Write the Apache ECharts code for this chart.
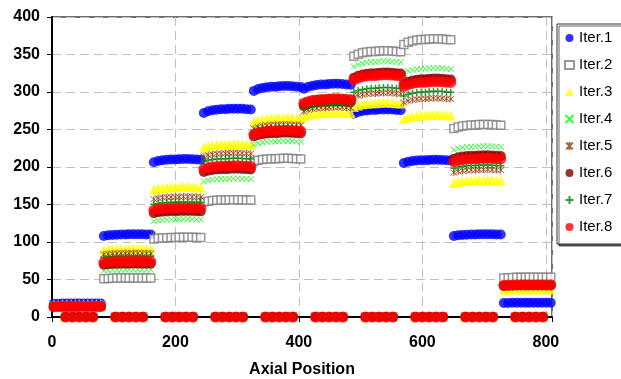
<!DOCTYPE html>
<html>
<head>
<meta charset="utf-8">
<script src="https://cdn.jsdelivr.net/npm/echarts@6/dist/echarts.min.js"></script>
<style>
  html, body { margin: 0; padding: 0; background: #fff; }
  #chart { width: 621px; height: 379px; }
</style>
</head>
<body>
<div id="chart"></div>
<script>
// axial segments (start of each node) and where the points sit inside a node
var segStarts = [0, 81, 162, 243, 324, 405, 486, 567, 648, 729];
var pointOffsets = [3, 10, 17, 24, 31, 38, 44, 51, 58, 65, 72, 79];
var profile = [0.982, 0.99, 0.995, 0.998, 1.0, 1.0, 1.002, 1.003, 1.003, 1.002, 1.0, 0.999];
var zeroOffsets = [22, 33, 44, 55, 66];

// node levels per iteration
var iter1 = [18, 110, 210, 277, 307, 310, 276, 209, 110, 19];
var iter2 = [15, 52, 106, 156, 211, 290, 354, 370, 256, 53];
var iter3 = [17, 91, 173, 230, 265, 272, 285, 269, 182, 37];
var iter4 = [14, 63, 130, 184, 234, 283, 340, 331, 227, 44];
var iter5 = [15, 85, 160, 218, 256, 279, 298, 291, 196, 43];
var iter6 = [14, 71, 141, 197, 245, 287, 325, 317, 215, 42];
var iter7 = [15, 81, 153, 211, 252, 283, 305, 300, 202, 43];
var iter8 = [14, 74, 145, 201, 248, 290, 322, 313, 211, 43];

var names = ['Iter.1', 'Iter.2', 'Iter.3', 'Iter.4', 'Iter.5', 'Iter.6', 'Iter.7', 'Iter.8'];
var levels = [iter1, iter2, iter3, iter4, iter5, iter6, iter7, iter8];

var X_PATH = 'path://M0,0L10,10M10,0L0,10';
var STAR_PATH = 'path://M0,0L10,10M10,0L0,10M5,-1L5,11';
var PLUS_PATH = 'path://M5,0L5,10M0,5L10,5';

var styles = [
    { symbol: 'circle', symbolSize: 10, itemStyle: { color: '#0000ff' } },
    { symbol: 'rect', symbolSize: 8, itemStyle: { color: '#ffffff', borderColor: '#808080', borderWidth: 1.5 } },
    { symbol: 'triangle', symbolSize: 10, itemStyle: { color: '#ffff00' } },
    { symbol: X_PATH, symbolSize: 6, itemStyle: { color: '#00ff00', borderColor: '#00ff00', borderWidth: 1 } },
    { symbol: STAR_PATH, symbolSize: 7, itemStyle: { color: '#993300', borderColor: '#993300', borderWidth: 1 } },
    { symbol: 'circle', symbolSize: 10, itemStyle: { color: '#800000' } },
    { symbol: PLUS_PATH, symbolSize: 7, itemStyle: { color: '#008000', borderColor: '#008000', borderWidth: 1.5 } },
    { symbol: 'circle', symbolSize: 11, itemStyle: { color: '#ff0000' } }
];

function buildData(lv) {
    var out = [];
    segStarts.forEach(function (s, k) {
        pointOffsets.forEach(function (o, i) {
            out.push([s + o, lv[k] * profile[i]]);
        });
    });
    segStarts.forEach(function (s) {
        zeroOffsets.forEach(function (o) {
            out.push([s + o, 0]);
        });
    });
    return out;
}

var series = names.map(function (n, i) {
    return {
        name: n,
        type: 'scatter',
        symbol: styles[i].symbol,
        symbolSize: styles[i].symbolSize,
        itemStyle: styles[i].itemStyle,
        data: buildData(levels[i]),
        emphasis: { disabled: true },
        z: 2 + i
    };
});

var chart = echarts.init(document.getElementById('chart'));
var options = {
    animation: false,
    grid: {
        left: 52, right: 69, top: 17, bottom: 62,
        outerBoundsMode: 'none',
        show: true, borderColor: '#404040', borderWidth: 1.5
    },
    legend: {
        orient: 'vertical',
        left: 557, top: 24,
        padding: [6, 14, 9, 7],
        itemWidth: 9, itemHeight: 8,
        itemGap: 11,
        backgroundColor: '#fff',
        borderColor: '#333', borderWidth: 1,
        shadowColor: 'rgba(0,0,0,0.6)', shadowOffsetX: 2, shadowOffsetY: 2,
        textStyle: { fontFamily: 'Liberation Sans', fontSize: 15, color: '#000', lineHeight: 16 },
        data: names
    },
    xAxis: {
        type: 'value',
        min: 0, max: 810, interval: 200,
        name: 'Axial Position',
        nameLocation: 'middle',
        nameGap: 45,
        nameTextStyle: { fontFamily: 'Liberation Sans', fontSize: 16, fontWeight: 'bold', color: '#000' },
        axisLine: { show: true, onZero: false, lineStyle: { color: '#000', width: 2 } },
        axisTick: { show: true, length: 5, lineStyle: { color: '#000' } },
        axisLabel: {
            margin: 18, fontFamily: 'Liberation Sans', fontSize: 16, fontWeight: 'bold', color: '#000',
            formatter: function (v) { return v % 200 === 0 ? v : ''; }
        },
        splitLine: { show: true, lineStyle: { color: '#c0c0c0', type: [9, 5] } }
    },
    yAxis: {
        type: 'value',
        min: 0, max: 400, interval: 50,
        axisLine: { show: true, lineStyle: { color: '#000', width: 2 } },
        axisTick: { show: true, length: 5, lineStyle: { color: '#000' } },
        axisLabel: { margin: 12, fontFamily: 'Liberation Sans', fontSize: 16, fontWeight: 'bold', color: '#000' },
        splitLine: { show: true, lineStyle: { color: '#c0c0c0', type: [9, 5] } }
    },
    series: series
};
chart.setOption(options);
</script>
</body>
</html>
